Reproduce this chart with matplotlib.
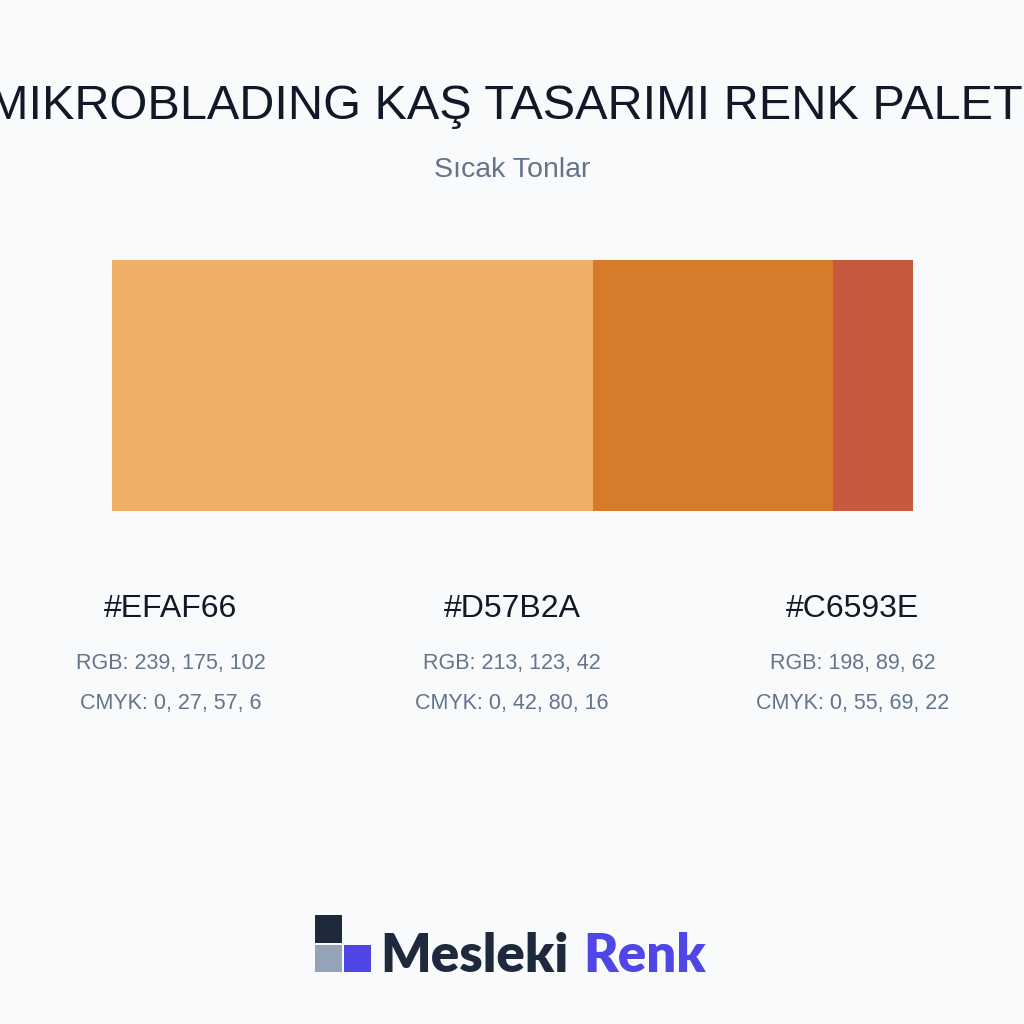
import matplotlib.pyplot as plt
from matplotlib.patches import Rectangle

plt.rcParams['font.family'] = ['Liberation Sans', 'DejaVu Sans']

title = "MIKROBLADING KAŞ TASARIMI RENK PALETİ"
subtitle = "Sıcak Tonlar"
hexes = ["#EFAF66", "#D57B2A", "#C6593E"]
rgbs = ["RGB: 239, 175, 102", "RGB: 213, 123, 42", "RGB: 198, 89, 62"]
cmyks = ["CMYK: 0, 27, 57, 6", "CMYK: 0, 42, 80, 16", "CMYK: 0, 55, 69, 22"]
shares = [60, 30, 10]

fig = plt.figure(figsize=(10.24, 10.24), dpi=100)
fig.patch.set_facecolor("#F8FAFC")
ax = fig.add_axes([0, 0, 1, 1])
ax.set_xlim(0, 1024)
ax.set_ylim(1024, 0)
ax.axis("off")

ax.text(512, 103, title, ha="center", va="center", fontsize=35, color="#111827")
ax.text(512, 170, subtitle, ha="center", va="center", fontsize=20.5, color="#64748B")

# stacked bar
x0, width = 112, 801
left = x0
for c, s in zip(hexes, shares):
    w = width * s / sum(shares)
    ax.add_patch(Rectangle((left, 260), w, 251, color=c, lw=0))
    left += w

for i, (h, r, c) in enumerate(zip(hexes, rgbs, cmyks)):
    cx = 171 + i * 341
    ax.text(cx, 609, h, ha="center", va="center", fontsize=23, color="#111827")
    ax.text(cx, 663, r, ha="center", va="center", fontsize=15.5, color="#64748B")
    ax.text(cx, 703, c, ha="center", va="center", fontsize=15.5, color="#64748B")

# logo
ax.add_patch(Rectangle((315, 915), 27, 28, color="#1E293B", lw=0))
ax.add_patch(Rectangle((315, 945), 27, 27, color="#94A3B8", lw=0))
ax.add_patch(Rectangle((344, 945), 27, 27, color="#4F46E5", lw=0))
ax.text(380, 972, "Mesleki", ha="left", va="baseline", fontsize=38,
        fontweight="heavy", color="#1E293B", family="Lato")
ax.text(583, 972, "Renk", ha="left", va="baseline", fontsize=38,
        fontweight="heavy", color="#4F46E5", family="Lato")

fig.savefig("out.png", dpi=100, facecolor=fig.get_facecolor())
